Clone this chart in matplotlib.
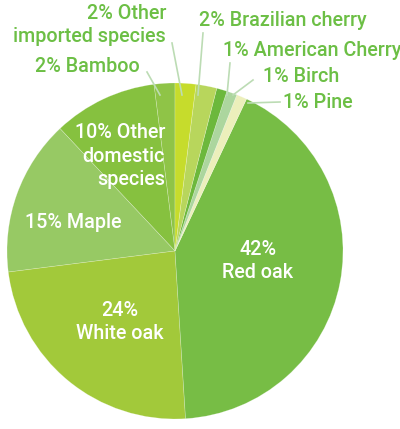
import matplotlib
matplotlib.use("Agg")
import matplotlib.pyplot as plt

species = ["Bamboo", "Other domestic species", "Maple", "White oak", "Red oak",
           "Pine", "Birch", "American Cherry", "Brazilian cherry", "Other imported species"]
shares = [2, 10, 15, 24, 42, 1, 1, 1, 2, 2]
colors = ["#8fc447", "#86c13f", "#97c964", "#a2c93a", "#77bd45",
          "#ecefbb", "#acd69e", "#6cb83c", "#b8d65c", "#c6dc2c"]

outside_labels = ["2% Other\nimported species", "2% Bamboo", "2% Brazilian cherry",
                  "1% American Cherry", "1% Birch", "1% Pine"]
inside_labels = ["10% Other\ndomestic\nspecies", "15% Maple", "24%\nWhite oak", "42%\nRed oak"]

W, H = 400, 429
fig = plt.figure(figsize=(W / 100, H / 100), dpi=100)
ax = fig.add_axes([0, 0, 1, 1])

def Y(y):
    return H - y

ax.pie(shares, colors=colors, startangle=90, counterclock=True,
       center=(175, Y(251)), radius=168, frame=True,
       wedgeprops=dict(linewidth=0.4, edgecolor=(1, 1, 1, 0.35)))
ax.set_xlim(0, W)
ax.set_ylim(0, H)
ax.set_aspect("equal")
ax.axis("off")

fam = ["Roboto", "DejaVu Sans"]
green = "#6cbf45"
fs = 14.2
wt = "medium"

out_specs = [
    (outside_labels[0], (166, 25), "right", [(172, 43), (182, 95)]),
    (outside_labels[1], (140, 67), "right", [(147, 72), (160, 95)]),
    (outside_labels[2], (199, 20), "left", [(203, 33), (198, 95)]),
    (outside_labels[3], (223, 50), "left", [(230, 63), (227, 95)]),
    (outside_labels[4], (263, 77), "left", [(253, 80), (233, 95)]),
    (outside_labels[5], (283, 102), "left", [(280, 102), (248, 103)]),
]
for txt, (x, y), ha, line in out_specs:
    ax.text(x, Y(y), txt, ha=ha, va="center", color=green, fontsize=fs,
            family=fam, weight=wt, linespacing=1.3)
    ax.plot([p[0] for p in line], [Y(p[1]) for p in line], color="#bcdcb4", lw=1.2)

in_specs = [
    (inside_labels[0], (165, 156), "right"),
    (inside_labels[1], (73, 223), "center"),
    (inside_labels[2], (120, 322), "center"),
    (inside_labels[3], (258, 261), "center"),
]
for txt, (x, y), ha in in_specs:
    ax.text(x, Y(y), txt, ha=ha, va="center", color="white", fontsize=fs,
            family=fam, weight=wt, linespacing=1.3, multialignment=ha)

fig.savefig("out.png", dpi=100)
